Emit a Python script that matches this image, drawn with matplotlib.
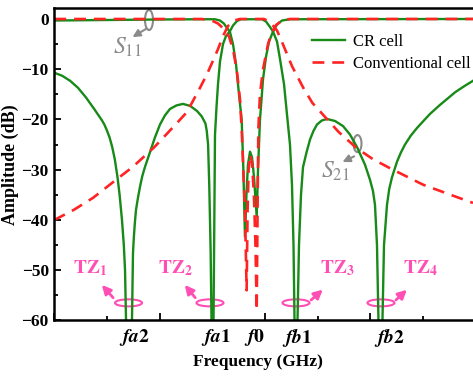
import matplotlib
matplotlib.use('Agg')
import matplotlib.pyplot as plt
from matplotlib.patches import Ellipse
from matplotlib.ticker import MultipleLocator, NullFormatter

plt.rcParams['font.family'] = ['Liberation Serif', 'DejaVu Serif']
plt.rcParams['mathtext.fontset'] = 'stix'

# frequency axis is in arbitrary units (0..8), amplitude in dB
# CR cell, S21
cr_s21_x = [0.0, 0.15, 0.3, 0.45, 0.6, 0.75, 0.9, 0.95, 1.0, 1.05, 1.1, 1.15, 1.2, 1.24, 1.285,
            1.32, 1.343, 1.362, 1.418,
            1.475, 1.494, 1.51, 1.53, 1.551, 1.59, 1.627, 1.67, 1.72, 1.817, 1.91, 2.007, 2.1,
            2.197, 2.32, 2.443, 2.58, 2.709, 2.8, 2.87, 2.895, 2.92, 2.943, 2.969, 2.985, 3.004,
            3.023, 3.037, 3.051, 3.08, 3.108, 3.146, 3.203, 3.26, 3.336, 3.393, 3.469, 3.545,
            3.944, 4.02, 4.096, 4.153, 4.229, 4.286, 4.362, 4.418, 4.475, 4.513, 4.542, 4.561,
            4.589, 4.618, 4.646, 4.684, 4.722, 4.79, 4.855, 4.92, 4.988, 5.08, 5.178, 5.33,
            5.481, 5.614, 5.748, 5.899, 5.994, 6.05, 6.089, 6.127, 6.155, 6.193, 6.231, 6.26,
            6.317, 6.36, 6.412, 6.507, 6.58, 6.658, 6.77, 6.886, 7.0, 7.133, 7.323, 7.46, 7.608,
            7.78, 7.95]
cr_s21_db = [-10.7, -11.3, -12.3, -13.7, -15.6, -17.8, -20.1, -21.0, -22.2, -23.6, -25.5, -28.0,
             -31.5, -35, -40, -45, -50, -60, -90,
             -60, -46.6, -43.5, -40.5, -38, -35.5, -33.4, -31.3, -29.5, -26.5, -23.6, -21.0,
             -19.2, -17.9, -17.2, -16.9, -17.3, -18.3, -19.4, -20.8, -22.3, -25, -33.4, -46.6,
             -60, -90, -60, -42, -23.1, -17.5, -13, -8.5, -5, -3.4, -2.4, -1.3, -0.4, -0.05,
             -0.05, -0.5, -1.6, -2.5, -4.5, -8, -13, -19, -25, -33, -45, -60,
             -90, -60, -45, -35, -29.5, -26.5, -24, -22.3, -21, -20.2, -19.9, -20.3,
             -21.3, -23, -25.5, -29, -32, -34.2, -37, -45, -60, -90, -60, -45,
             -37, -33.8, -31.5, -28.4, -26.6, -25, -23.2, -21.7, -20.4, -18.9, -17.1, -15.9,
             -14.6, -13.4, -12.3]

# CR cell, S11
cr_s11_x = [0.0, 1.0, 2.0, 2.8, 3.05, 3.146, 3.22, 3.28, 3.336, 3.393, 3.45, 3.507, 3.558, 3.59,
            3.62, 3.648, 3.677, 3.716, 3.754, 3.792, 3.843, 3.868, 3.905, 3.963, 4.02, 4.077,
            4.153, 4.229, 4.324, 4.475, 7.95]
cr_s11_db = [-0.3, -0.2, -0.1, -0.05, -0.05, -0.3, -0.9, -1.8, -2.6, -5, -9, -15, -20.1, -30,
             -43.3, -35, -29, -26.4, -27.5, -31.5, -39.3, -30, -20.1, -12, -7.5, -4.5,
             -2.5, -1.1, -0.3, -0.05, 0.0]

# conventional cell, S21
cv_s21_x = [0.0, 0.368, 0.735, 1.1, 1.494, 1.9, 2.33, 2.52, 2.766, 2.899, 3.013, 3.108, 3.203,
            3.298, 3.412, 3.526, 3.982, 4.058, 4.134, 4.229, 4.324, 4.514, 4.728, 4.9, 5.107,
            5.4, 5.741, 6.05, 6.374, 7.006, 7.893, 7.95]
cv_s21_db = [-40, -38, -35.6, -32.6, -29.4, -25.5, -20.7, -18.5, -13.7, -11, -8.3, -6, -3.4,
             -1.4, -0.3, 0.0, 0.0, -0.4, -1.1, -2.3, -4.6, -9.4, -13.7, -16.7, -19.1,
             -22.5, -25.7, -27.9, -29.7, -33, -36.4, -36.6]

# conventional cell, S11
cv_s11_x = [0.0, 2.8, 2.99, 3.108, 3.222, 3.317, 3.393, 3.469, 3.526, 3.558, 3.62, 3.652, 3.67,
            3.69, 3.716, 3.754, 3.79, 3.82, 3.843, 3.862, 3.874, 3.905, 3.963, 4.058, 4.134,
            4.21, 4.324, 4.475, 7.95]
cv_s11_db = [0.0, 0.0, -0.3, -0.9, -2.0, -3.5, -6, -10.5, -16, -22, -38, -54, -38,
             -30, -27, -28.5, -35, -45, -58, -35, -22, -15, -10, -5, -2.6,
             -1.2, -0.3, 0.0, 0.0]

# custom frequency labels (transmission zeros and centre)
freq_names = [r'$\mathbfit{fa}\mathbf{2}$', r'$\mathbfit{fa}\mathbf{1}$',
              r'$\mathbfit{f}\mathbf{0}$', r'$\mathbfit{fb}\mathbf{1}$',
              r'$\mathbfit{fb}\mathbf{2}$']
freq_pos = [1.513, 3.07, 3.81, 4.6, 6.355]

tz_names = [r'$\mathbf{TZ_1}$', r'$\mathbf{TZ_2}$', r'$\mathbf{TZ_3}$', r'$\mathbf{TZ_4}$']
tz_text_x = [0.678, 2.293, 5.367, 6.943]
tz_ring_x = [1.409, 2.956, 4.589, 6.203]
tz_arrow = [((1.152, -55.9), (0.868, -52.5)), ((2.709, -55.9), (2.443, -52.5)),
            ((4.836, -56.3), (5.139, -53.5)), ((6.449, -56.3), (6.734, -53.5))]

GREEN = '#178a17'
RED = '#ff2323'
GRAY = '#8a8a8a'
PINK = '#ff4fb4'

fig = plt.figure(figsize=(4.73, 3.77), dpi=100)
ax = fig.add_axes([0.1148, 0.150, 0.8852, 0.828])

ax.plot(cr_s21_x, cr_s21_db, color=GREEN, lw=1.7, label='CR cell')
ax.plot(cr_s11_x, cr_s11_db, color=GREEN, lw=1.7)
ax.plot(cv_s21_x, cv_s21_db, color=RED, lw=1.9, ls=(0, (4.5, 3)), label='Conventional cell')
ax.plot(cv_s11_x, cv_s11_db, color=RED, lw=1.9, ls=(0, (4.5, 3)))

ax.set_xlim(0, 7.95)
ax.set_ylim(-60, 2.13)

ax.xaxis.set_major_locator(MultipleLocator(2))
ax.xaxis.set_minor_locator(MultipleLocator(1))
ax.xaxis.set_major_formatter(NullFormatter())
ax.yaxis.set_major_locator(MultipleLocator(10))
ax.yaxis.set_minor_locator(MultipleLocator(5))
ax.tick_params(which='both', direction='in', width=1.3)
ax.tick_params(which='major', length=5)
ax.tick_params(which='minor', length=3)
ax.tick_params(axis='y', labelsize=12.5, pad=4)
for lab in ax.get_yticklabels():
    lab.set_fontweight('bold')

for side in ['left', 'bottom', 'top']:
    ax.spines[side].set_linewidth(1.8)
ax.spines['right'].set_visible(False)

ax.set_ylabel('Amplitude (dB)', fontsize=13, fontweight='bold')
ax.yaxis.set_label_coords(-0.084, 0.5)
ax.set_xlabel('Frequency (GHz)', fontsize=12.5, fontweight='bold')
ax.xaxis.set_label_coords(0.4865, -0.107)

for name, xp in zip(freq_names, freq_pos):
    ax.text(xp, -0.056, name, transform=ax.get_xaxis_transform(), ha='center', va='center',
            fontsize=14)

# S11 / S21 markers
ax.add_patch(Ellipse((1.798, -0.2), 0.152, 4.0, fill=False, ec=GRAY, lw=1.5))
ax.annotate('', xy=(1.44, -3.9), xytext=(1.798, -1.6),
            arrowprops=dict(arrowstyle='-|>', color=GRAY, lw=1.5, mutation_scale=11))
ax.text(1.382, -5.6, r'$S_{11}$', color=GRAY, fontsize=17, ha='center', va='center')

ax.add_patch(Ellipse((5.757, -24.8), 0.152, 3.4, fill=False, ec=GRAY, lw=1.5))
ax.annotate('', xy=(5.425, -28.7), xytext=(5.741, -27.1),
            arrowprops=dict(arrowstyle='-|>', color=GRAY, lw=1.5, mutation_scale=11))
ax.text(5.33, -30.4, r'$S_{21}$', color=GRAY, fontsize=17, ha='center', va='center')

# transmission zero markers
for name, tx, rx, (a0, a1) in zip(tz_names, tz_text_x, tz_ring_x, tz_arrow):
    ax.text(tx, -49.55, name, color=PINK, fontsize=14, ha='center', va='center')
    ax.add_patch(Ellipse((rx, -56.5), 0.513, 1.4, fill=False, ec=PINK, lw=1.5))
    ax.annotate('', xy=a1, xytext=a0,
                arrowprops=dict(arrowstyle='-|>', color=PINK, lw=2, mutation_scale=13))

ax.legend(loc='upper left', bbox_to_anchor=(0.6147, 0.918), frameon=False, fontsize=12,
          handlelength=2.0, handletextpad=0.5, borderpad=0, borderaxespad=0, labelspacing=0.35)

fig.savefig('out.png', dpi=100)
